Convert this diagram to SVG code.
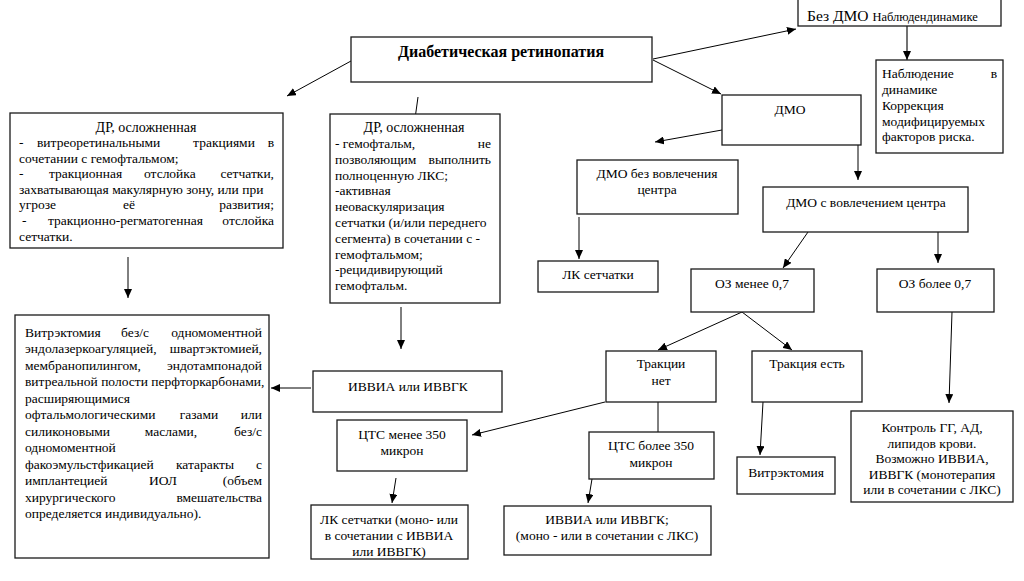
<svg xmlns="http://www.w3.org/2000/svg" width="1024" height="581" viewBox="0 0 1024 581">
<defs>
<style>
.box{fill:#fff;stroke:#1a1a1a;stroke-width:1.3}
text{font-family:'Liberation Serif','DejaVu Serif Condensed','DejaVu Serif',serif;font-size:13.5px;fill:#000}
.c{text-anchor:middle}
.e{text-anchor:end}
.b{font-weight:bold;font-size:16px}
#connectors line{stroke:#000;stroke-width:1;fill:none}
</style>
<marker id="ah" markerUnits="userSpaceOnUse" markerWidth="9" markerHeight="8" refX="9" refY="4" orient="auto">
<path d="M0,0 L9,4 L0,8 z" fill="#000"/>
</marker>
</defs>
<rect width="1024" height="581" fill="#fff"/>

<g id="connectors">
<line x1="351" y1="61" x2="287" y2="96" marker-end="url(#ah)"/>
<line x1="653" y1="59" x2="796" y2="29" marker-end="url(#ah)"/>
<line x1="653" y1="60" x2="721" y2="94" marker-end="url(#ah)"/>
<line x1="418" y1="97" x2="414" y2="126" marker-end="url(#ah)"/>
<line x1="907" y1="26" x2="907" y2="60" marker-end="url(#ah)" style="stroke:#444;stroke-width:1.5"/>
<line x1="722" y1="130" x2="655" y2="142" marker-end="url(#ah)"/>
<line x1="858" y1="145" x2="858" y2="180" marker-end="url(#ah)"/>
<line x1="579" y1="217" x2="579" y2="259" marker-end="url(#ah)"/>
<line x1="808" y1="232" x2="783" y2="268" marker-end="url(#ah)"/>
<line x1="938" y1="232" x2="938" y2="263" marker-end="url(#ah)"/>
<line x1="742" y1="312" x2="658" y2="350" marker-end="url(#ah)"/>
<line x1="742" y1="312" x2="792" y2="350" marker-end="url(#ah)"/>
<line x1="952" y1="312" x2="949" y2="403" marker-end="url(#ah)"/>
<line x1="763" y1="402" x2="760" y2="455" marker-end="url(#ah)"/>
<line x1="658" y1="402" x2="658" y2="432"/>
<line x1="605" y1="402" x2="472" y2="435" marker-end="url(#ah)"/>
<line x1="592" y1="479" x2="588" y2="503" marker-end="url(#ah)"/>
<line x1="396" y1="478" x2="392" y2="503" marker-end="url(#ah)"/>
<line x1="311" y1="388" x2="271" y2="388" marker-end="url(#ah)"/>
<line x1="401" y1="307" x2="401" y2="349" marker-end="url(#ah)"/>
<line x1="128" y1="257" x2="128" y2="298" marker-end="url(#ah)"/>
</g>

<g id="main">
<rect class="box" x="351" y="37" width="301" height="45"/>
<text class="c b" x="501" y="57">Диабетическая ретинопатия</text>
</g>

<g id="bez-dmo">
<rect class="box" x="798" y="-2" width="203" height="28"/>
<text x="807" y="21" style="font-size:15.5px">Без ДМО <tspan style="font-size:12.5px">Наблюдендинамике</tspan></text>
</g>

<g id="nabl">
<rect class="box" x="876" y="60" width="127" height="93"/>
<text x="882" y="78">Наблюдение</text>
<text class="e" x="997" y="78">в</text>
<text x="882" y="94">динамике</text>
<text x="882" y="110">Коррекция</text>
<text x="882" y="126">модифицируемых</text>
<text x="882" y="141">факторов риска.</text>
</g>

<g id="dmo">
<rect class="box" x="722" y="95" width="139" height="50"/>
<text class="c" x="790" y="114">ДМО</text>
</g>

<g id="dmo-bez">
<rect class="box" x="577" y="160" width="161" height="54"/>
<text class="c" x="657" y="178">ДМО без вовлечения</text>
<text class="c" x="657" y="194">центра</text>
</g>

<g id="lk">
<rect class="box" x="538" y="261" width="120" height="31"/>
<text class="c" x="598" y="279">ЛК сетчатки</text>
</g>

<g id="dmo-s">
<rect class="box" x="763" y="187" width="205" height="45"/>
<text class="c" x="866" y="207">ДМО с вовлечением центра</text>
</g>

<g id="oz-less">
<rect class="box" x="691" y="269" width="123" height="43"/>
<text class="c" x="752" y="288">ОЗ менее 0,7</text>
</g>

<g id="oz-more">
<rect class="box" x="877" y="269" width="117" height="43"/>
<text class="c" x="935" y="288">ОЗ более 0,7</text>
</g>

<g id="control">
<rect class="box" x="851" y="411" width="162" height="91"/>
<text class="c" x="932" y="432">Контроль ГГ, АД,</text>
<text class="c" x="932" y="448">липидов крови.</text>
<text class="c" x="932" y="463">Возможно ИВВИА,</text>
<text class="c" x="932" y="479">ИВВГК (монотерапия</text>
<text class="c" x="932" y="494">или в сочетании с ЛКС)</text>
</g>

<g id="trak-net">
<rect class="box" x="606" y="351" width="110" height="51"/>
<text class="c" x="661" y="368">Тракции</text>
<text class="c" x="661" y="385">нет</text>
</g>

<g id="trak-est">
<rect class="box" x="752" y="351" width="110" height="51"/>
<text class="c" x="807" y="368">Тракция есть</text>
</g>

<g id="vitr-small">
<rect class="box" x="737" y="457" width="98" height="37"/>
<text class="c" x="786" y="477">Витрэктомия</text>
</g>

<g id="cts-more">
<rect class="box" x="589" y="432" width="125" height="47"/>
<text class="c" x="651" y="450">ЦТС более 350</text>
<text class="c" x="651" y="467">микрон</text>
</g>

<g id="ivvia2">
<rect class="box" x="504" y="506" width="207" height="49"/>
<text class="c" x="607" y="524">ИВВИА или ИВВГК;</text>
<text class="c" x="607" y="540">(моно - или в сочетании с ЛКС)</text>
</g>

<g id="cts-less">
<rect class="box" x="337" y="420" width="130" height="51"/>
<text class="c" x="402" y="439">ЦТС менее 350</text>
<text class="c" x="402" y="455">микрон</text>
</g>

<g id="lk-mono">
<rect class="box" x="311" y="505" width="157" height="54"/>
<text class="c" x="389" y="524">ЛК сетчатки (моно- или</text>
<text class="c" x="389" y="540">в сочетании с ИВВИА</text>
<text class="c" x="389" y="556">или ИВВГК)</text>
</g>

<g id="ivvia1">
<rect class="box" x="313" y="371" width="189" height="41"/>
<text class="c" x="408" y="391">ИВВИА или ИВВГК</text>
</g>

<g id="dr1">
<rect class="box" x="10" y="113" width="273" height="135"/>
<text class="c" x="146" y="132" style="font-size:14px">ДР, осложненная</text>
<text x="19" y="147">-</text>
<text x="37" y="147">витреоретинальными</text>
<text class="c" x="224" y="147">тракциями</text>
<text class="e" x="274" y="147">в</text>
<text x="19" y="163">сочетании с гемофтальмом;</text>
<text x="19" y="178">-</text>
<text x="49" y="178">тракционная</text>
<text x="144" y="178">отслойка</text>
<text class="e" x="274" y="178">сетчатки,</text>
<text x="19" y="194">захватывающая макулярную зону, или при</text>
<text x="19" y="209">угрозе</text>
<text x="123" y="209">её</text>
<text class="e" x="274" y="209">развития;</text>
<text x="22" y="225">-</text>
<text x="48" y="225">тракционно-регматогенная</text>
<text class="e" x="274" y="225">отслойка</text>
<text x="19" y="241">сетчатки.</text>
</g>

<g id="dr2">
<rect class="box" x="330" y="114" width="170" height="189"/>
<text class="c" x="414" y="132" style="font-size:14px">ДР, осложненная</text>
<text x="335" y="148">- гемофтальм,</text>
<text class="e" x="491" y="148">не</text>
<text x="335" y="164">позволяющим</text>
<text class="e" x="491" y="164">выполнить</text>
<text x="335" y="180">полноценную ЛКС;</text>
<text x="335" y="195">-активная</text>
<text x="335" y="211">неоваскуляризация</text>
<text x="335" y="227">сетчатки (и/или переднего</text>
<text x="335" y="243">сегмента) в сочетании с -</text>
<text x="335" y="259">гемофтальмом;</text>
<text x="335" y="274">-рецидивирующий</text>
<text x="335" y="290">гемофтальм.</text>
</g>

<g id="vitr-big">
<rect class="box" x="15" y="315" width="254" height="243"/>
<text x="25" y="337">Витрэктомия</text>
<text class="c" x="135" y="337">без/с</text>
<text class="e" x="262" y="337">одномоментной</text>
<text x="25" y="353">эндолазеркоагуляцией,</text>
<text class="e" x="262" y="353">швартэктомией,</text>
<text x="25" y="370">мембранопилингом,</text>
<text class="e" x="262" y="370">эндотампонадой</text>
<text x="25" y="386">витреальной полости перфторкарбонами,</text>
<text x="25" y="403">расширяющимися</text>
<text x="25" y="419">офтальмологическими</text>
<text class="c" x="199" y="419">газами</text>
<text class="e" x="262" y="419">или</text>
<text x="25" y="436">силиконовыми</text>
<text class="c" x="171" y="436">маслами,</text>
<text class="e" x="262" y="436">без/с</text>
<text x="25" y="452">одномоментной</text>
<text x="25" y="469">факоэмульстфикацией</text>
<text class="c" x="205" y="469">катаракты</text>
<text class="e" x="262" y="469">с</text>
<text x="25" y="485">имплантецией</text>
<text class="c" x="163" y="485">ИОЛ</text>
<text class="e" x="262" y="485">(объем</text>
<text x="25" y="502">хирургического</text>
<text class="e" x="262" y="502">вмешательства</text>
<text x="25" y="518">определяется индивидуально).</text>
</g>
</svg>
